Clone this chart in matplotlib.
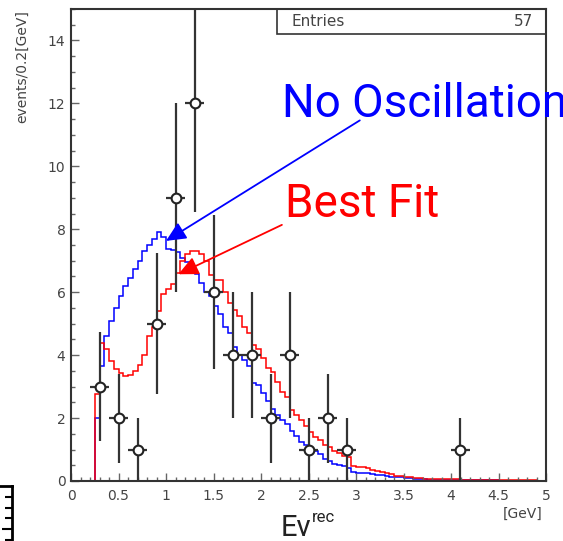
import numpy as np
import matplotlib.pyplot as plt
from matplotlib.patches import Rectangle
from matplotlib.ticker import MultipleLocator

# ---- data -------------------------------------------------------------
# observed events (0.2 GeV bins)
e_center = [0.3, 0.5, 0.7, 0.9, 1.1, 1.3, 1.5, 1.7, 1.9, 2.1, 2.3, 2.5, 2.7, 2.9, 4.1]
n_events = [3, 2, 1, 5, 9, 12, 6, 4, 4, 2, 4, 1, 2, 1, 1]

# expectation histograms, 0.05 GeV bins from 0 to 5 GeV
bin_edges = np.linspace(0, 5, 101)

no_osc = [0, 0, 0, 0, 0,
          2.0, 3.64, 4.6, 5.1, 5.5, 5.87, 6.2, 6.45, 6.75, 7.0,
          7.3, 7.5, 7.7, 7.9, 7.75, 7.37, 7.35, 7.27, 7.1, 6.95,
          6.8, 6.57, 6.3, 6.0, 5.87, 5.55, 5.3, 4.9, 4.7, 4.27,
          4.0, 3.86, 3.64, 3.12, 3.06, 2.8, 2.55, 2.3, 2.1, 1.95,
          1.8, 1.6, 1.42, 1.25, 1.15, 1.05, 0.95, 0.85, 0.7, 0.62,
          0.55, 0.5, 0.47, 0.4, 0.28, 0.27, 0.26, 0.25, 0.23, 0.2,
          0.18, 0.17, 0.14, 0.13, 0.12, 0.1, 0.08, 0.06, 0.05, 0.05,
          0.04, 0.04, 0.03, 0.03, 0.03,
          0.02, 0.02, 0.02, 0.02, 0.02, 0.02, 0.02, 0.02, 0.02, 0.02,
          0.01, 0.01, 0.01, 0.01, 0.01, 0.01, 0.01, 0.01, 0.01, 0.01]

best_fit = [0, 0, 0, 0, 0,
            2.75, 4.4, 4.2, 3.8, 3.55, 3.44, 3.35, 3.38, 3.5, 3.7,
            4.0, 4.6, 4.88, 5.4, 5.93, 6.1, 6.25, 6.6, 7.0, 7.2,
            7.3, 7.3, 7.2, 7.0, 6.55, 6.4, 6.4, 6.0, 5.67, 5.45,
            5.23, 4.9, 4.7, 4.33, 4.2, 3.9, 3.6, 3.45, 3.15, 2.84,
            2.68, 2.26, 2.1, 1.95, 1.75, 1.56, 1.4, 1.3, 1.15, 1.08,
            0.95, 0.9, 0.8, 0.75, 0.47, 0.45, 0.43, 0.4, 0.35, 0.33,
            0.3, 0.27, 0.22, 0.17, 0.15, 0.14, 0.12, 0.09, 0.08, 0.07,
            0.07, 0.06, 0.06, 0.06, 0.05,
            0.05, 0.05, 0.04, 0.04, 0.04, 0.04, 0.03, 0.03, 0.03, 0.03,
            0.03, 0.03, 0.02, 0.02, 0.02, 0.02, 0.02, 0.02, 0.01, 0.01]

x_ticks = [0, 0.5, 1, 1.5, 2, 2.5, 3, 3.5, 4, 4.5, 5]
x_ticklabels = ['0', '0.5', '1', '1.5', '2', '2.5', '3', '3.5', '4', '4.5', '5']

W, H = 563, 541
grey = '#444444'

fig = plt.figure(figsize=(W / 100, H / 100), dpi=100)
ax = fig.add_axes([71 / W, 60 / H, 475 / W, 472 / H])

ax.stairs(no_osc, bin_edges, color='blue', lw=1.1)
ax.stairs(best_fit, bin_edges, color='red', lw=1.1)
ax.errorbar(e_center, n_events, yerr=np.sqrt(n_events), xerr=0.1, fmt='o',
            ms=7, mfc='white', mec='#222222', mew=1.5, ecolor='#333333',
            elinewidth=1.6, capsize=0, zorder=5)

ax.set_xlim(0, 5)
ax.set_ylim(0, 15)
ax.set_xticks(x_ticks)
ax.set_xticklabels(x_ticklabels)
ax.xaxis.set_minor_locator(MultipleLocator(0.1))
ax.yaxis.set_major_locator(MultipleLocator(2))
ax.yaxis.set_minor_locator(MultipleLocator(0.5))
ax.tick_params(which='both', direction='in', color='#666666', labelcolor=grey,
               labelsize=10)
ax.tick_params(which='major', length=6, width=1)
ax.tick_params(which='minor', length=3, width=1)
ax.tick_params(axis='x', pad=6)
ax.tick_params(axis='y', pad=4)
for s in ax.spines.values():
    s.set_color('#333333')
    s.set_linewidth(1.5)

ax.set_ylabel('events/0.2[GeV]', loc='top', fontsize=10, color=grey)
ax.yaxis.set_label_coords(-0.088, 0.998)

# stats box
ax.add_patch(Rectangle((0.434, 0.947), 0.566, 0.053, transform=ax.transAxes,
                       fill=False, ec='#333333', lw=1.2, clip_on=False))
ax.text(0.465, 0.9725, 'Entries', transform=ax.transAxes, va='center',
        fontsize=11, color=grey)
ax.text(0.9726, 0.9725, '57', transform=ax.transAxes, va='center', ha='right',
        fontsize=11, color=grey)

# arrows
ax.annotate('', xy=(1.0, 7.63), xytext=(3.04, 11.46),
            arrowprops=dict(arrowstyle='-|>,head_length=0.6,head_width=0.28',
                            color='blue', lw=1.3, mutation_scale=20,
                            shrinkA=0, shrinkB=0), zorder=6)
ax.annotate('', xy=(1.13, 6.57), xytext=(2.22, 8.14),
            arrowprops=dict(arrowstyle='-|>,head_length=0.6,head_width=0.28',
                            color='red', lw=1.3, mutation_scale=20,
                            shrinkA=0, shrinkB=0), zorder=6)

fig.text(282 / W, 1 - 117 / H, 'No Oscillation', color='blue', fontsize=33,
         family='Roboto', va='baseline', ha='left')
fig.text(285 / W, 1 - 217 / H, 'Best Fit', color='red', fontsize=33,
         family='Roboto', va='baseline', ha='left')

# axis title
fig.text(281 / W, 1 - 536 / H, 'Eν', fontsize=21, color='#222222',
         family='Roboto', va='baseline', ha='left')
fig.text(312 / W, 1 - 522 / H, 'rec', fontsize=12, color='#222222',
         family='Roboto', va='baseline', ha='left')
fig.text(543 / W, 1 - 518 / H, '[GeV]', fontsize=10, color=grey,
         va='baseline', ha='right')

# piece of a neighbouring frame in the lower left corner
ax2 = fig.add_axes([-0.1, -53 / H, 0.1 + 12 / W, 108 / H])
ax2.set_xlim(0, 1)
ax2.set_ylim(0, 10)
ax2.spines['left'].set_visible(False)
ax2.spines['bottom'].set_visible(False)
for s in ('top', 'right'):
    ax2.spines[s].set_color('black')
    ax2.spines[s].set_linewidth(2)
ax2.set_xticks([])
ax2.yaxis.tick_right()
ax2.set_yticks([6])
ax2.set_yticks([5, 7, 8, 9], minor=True)
ax2.tick_params(axis='y', which='both', direction='in', labelright=False,
                width=1.5, color='black')
ax2.tick_params(axis='y', which='major', length=7.5)
ax2.tick_params(axis='y', which='minor', length=5)
ax2.patch.set_alpha(0)

fig.savefig('out.png', dpi=100)
